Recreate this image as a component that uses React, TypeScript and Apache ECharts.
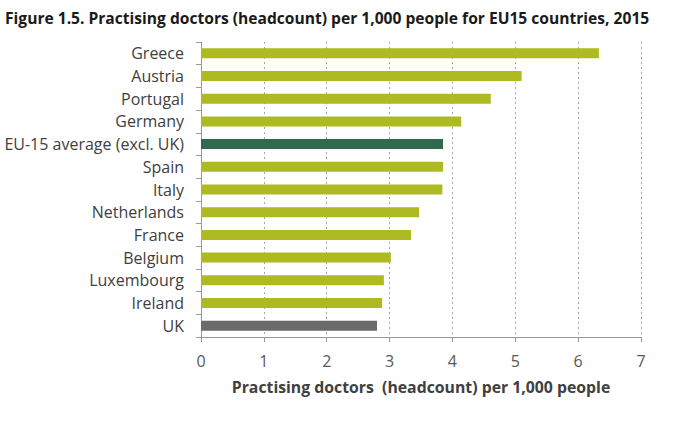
import React, { useEffect, useRef } from "react";
import * as echarts from "echarts";

const categories = [
  "Greece",
  "Austria",
  "Portugal",
  "Germany",
  "EU-15 average (excl. UK)",
  "Spain",
  "Italy",
  "Netherlands",
  "France",
  "Belgium",
  "Luxembourg",
  "Ireland",
  "UK",
];
const values = [6.33, 5.1, 4.61, 4.14, 3.85, 3.85, 3.84, 3.47, 3.34, 3.02, 2.91, 2.88, 2.8];
const colorDefault = "#AEBA22";
const colorHighlight: Record<string, string> = {
  "EU-15 average (excl. UK)": "#2F6A4E",
  UK: "#6A6A6A",
};
const title = "Figure 1.5. Practising doctors (headcount) per 1,000 people for EU15 countries, 2015";
const xAxisName = "Practising doctors  (headcount) per 1,000 people";

export default function App() {
  const ref = useRef<HTMLDivElement>(null);
  useEffect(() => {
    if (!ref.current) return;
    const chart = echarts.init(ref.current, undefined, { renderer: "svg" });
    const font = "'Open Sans', 'Noto Sans', sans-serif";
    chart.setOption({
      animation: false,
      textStyle: { fontFamily: font },
      title: {
        text: title,
        left: 0,
        top: 5,
        textStyle: { fontFamily: font, fontSize: 15.6, fontWeight: "bold", color: "#1a1a1a" },
      },
      grid: { left: 201, right: 39, top: 42, bottom: 92 },
      xAxis: {
        type: "value",
        min: 0,
        max: 7,
        interval: 1,
        name: xAxisName,
        nameLocation: "middle",
        nameGap: 42,
        nameTextStyle: { fontFamily: font, fontSize: 15.8, fontWeight: "bold", color: "#404040" },
        axisLine: { show: true, lineStyle: { color: "#999", width: 1 } },
        axisTick: { show: true, length: 5, lineStyle: { color: "#999" } },
        axisLabel: { fontFamily: font, fontSize: 16, color: "#595959", margin: 16 },
        splitLine: { show: true, lineStyle: { color: "#a6a6a6", type: [2, 3], width: 1 } },
      },
      yAxis: {
        type: "category",
        data: categories,
        inverse: true,
        axisLine: { show: true, lineStyle: { color: "#999", width: 1 } },
        axisTick: { show: true, length: 5, lineStyle: { color: "#999" } },
        axisLabel: { fontFamily: font, fontSize: 16, color: "#404040", margin: 17 },
        splitLine: { show: false },
      },
      series: [
        {
          type: "bar",
          data: values.map((v, i) => ({
            value: v,
            itemStyle: { color: colorHighlight[categories[i]] ?? colorDefault },
          })),
          barWidth: 10,
        },
      ],
    });
    return () => chart.dispose();
  }, []);
  return <div ref={ref} style={{ width: 680, height: 429, position: "absolute", left: 0, top: 0 }} />;
}
